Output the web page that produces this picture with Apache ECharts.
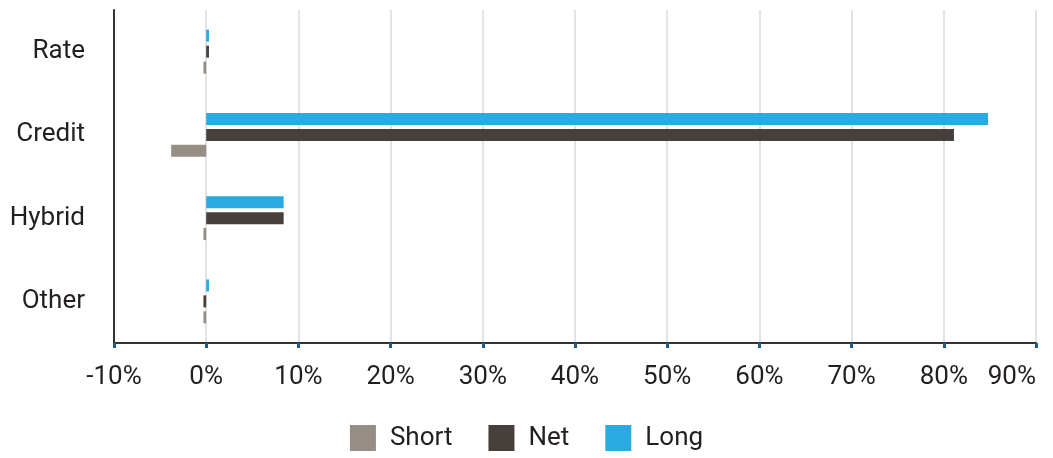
<!DOCTYPE html>
<html><head><meta charset="utf-8">
<script src="https://cdn.jsdelivr.net/npm/echarts@6/dist/echarts.min.js"></script>
<style>html,body{margin:0;padding:0;background:#fff}#c{width:1053px;height:458px}</style>
</head><body><div id="c"></div>
<script>
const categories = ['Rate', 'Credit', 'Hybrid', 'Other'];
const shortVals = [-0.3, -3.8, -0.3, -0.3];
const netVals = [0.3, 81.1, 8.4, -0.3];
const longVals = [0.3, 84.8, 8.4, 0.3];
const xTicks = [-10, 0, 10, 20, 30, 40, 50, 60, 70, 80, 90];

const chart = echarts.init(document.getElementById('c'));
const font = 'Roboto';
chart.setOption({
  animation: false,
  textStyle: { fontFamily: font },
  grid: { left: 114, right: 17, top: 10, bottom: 115, outerBoundsMode: 'none', containLabel: false },
  legend: {
    bottom: 2, left: 'center', itemWidth: 26, itemHeight: 26, itemGap: 36,
    icon: 'rect',
    textStyle: { fontSize: 26, color: '#231f20', fontFamily: font, padding: [0, 0, 0, 9] },
    data: ['Short', 'Net', 'Long']
  },
  xAxis: {
    type: 'value', min: xTicks[0], max: xTicks[xTicks.length - 1], interval: 10,
    axisLine: { show: true, lineStyle: { color: '#333', width: 2 } },
    axisTick: { show: true, length: 5, lineStyle: { color: '#1b5f84', width: 3 } },
    axisLabel: { formatter: v => v + '%', fontSize: 26, color: '#231f20', margin: 21, fontFamily: font, alignMaxLabel: 'right' },
    splitLine: { show: true, lineStyle: { color: '#e3e3e3', width: 2 } }
  },
  yAxis: {
    type: 'category', data: categories, inverse: true,
    axisLine: { show: true, onZero: false, lineStyle: { color: '#333', width: 2 } },
    axisTick: { show: false },
    axisLabel: { fontSize: 26, color: '#231f20', margin: 29, fontFamily: font }
  },
  series: [
    { name: 'Long', type: 'bar', data: longVals, itemStyle: { color: '#29abe2' }, barWidth: 12, barGap: '33%', barCategoryGap: '47%' },
    { name: 'Net', type: 'bar', data: netVals, itemStyle: { color: '#463f3b' }, barWidth: 12, barGap: '33%' },
    { name: 'Short', type: 'bar', data: shortVals, itemStyle: { color: '#968e84' }, barWidth: 12, barGap: '33%' }
  ]
});
</script></body></html>
